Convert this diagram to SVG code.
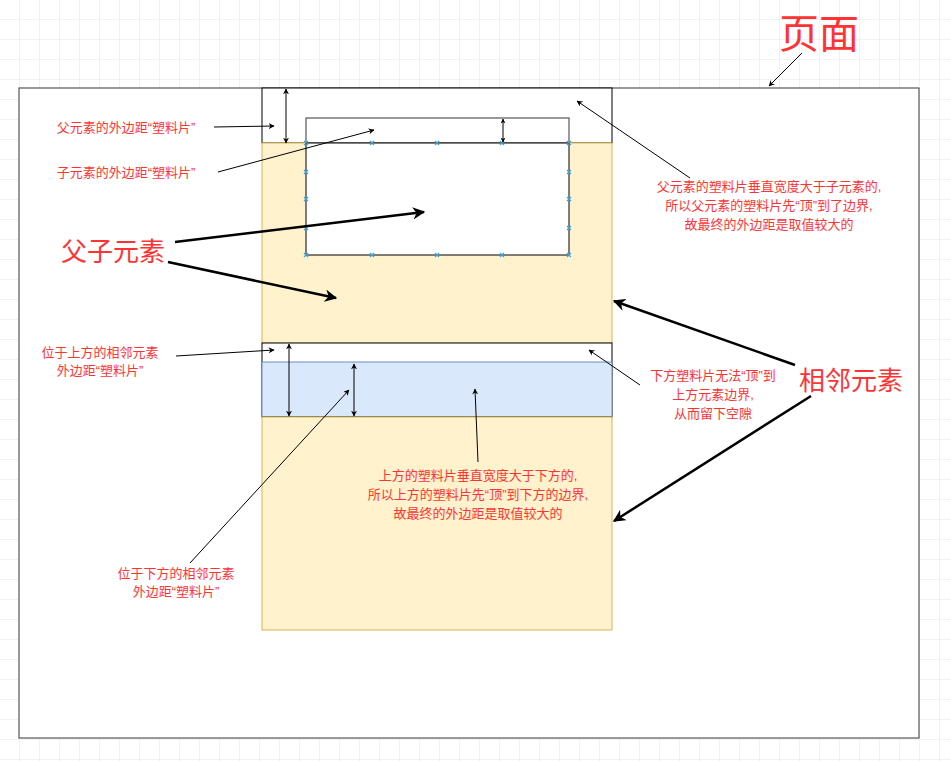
<svg xmlns="http://www.w3.org/2000/svg" width="951" height="761" viewBox="0 0 951 761">
<defs>
<pattern id="g" width="20" height="20" patternUnits="userSpaceOnUse" x="-1" y="-1"><path d="M20 0H0V20" fill="none" stroke="#e6e6e6" stroke-width="1"/></pattern>
<marker id="a" viewBox="0 0 10 10" refX="9" refY="5" markerWidth="6" markerHeight="6" orient="auto-start-reverse"><path d="M0 0L10 5L0 10L3 5z" fill="#000"/></marker>
<marker id="b" viewBox="0 0 10 10" refX="9" refY="5" markerWidth="5" markerHeight="5" orient="auto-start-reverse"><path d="M0 0L10 5L0 10L3 5z" fill="#000"/></marker>
</defs>
<style>
.t{font-family:"Liberation Sans","Noto Sans CJK SC",sans-serif;fill:#ff3333;font-size:13px;text-anchor:middle}
.big{font-size:26px}
.c{stroke:#000;fill:none;stroke-width:1}
.th{stroke-width:2.5}
.x{stroke:#3aa3e3;stroke-width:1.2}
</style>
<rect width="951" height="761" fill="#fff"/>
<rect width="951" height="761" fill="url(#g)"/>
<g id="page"><rect x="19" y="88" width="900" height="650" fill="#fff" stroke="#555" stroke-width="1.2"/></g>
<g id="parent">
<rect x="262" y="88" width="350" height="55" fill="#fff" stroke="#000"/>
<rect x="262" y="143" width="350" height="200" fill="#fff2cc" stroke="#d6b656"/>
</g>
<g id="child">
<rect x="306" y="118" width="263" height="25" fill="#fff" stroke="#555" stroke-width="1.2"/>
<rect x="306" y="143" width="263" height="112" fill="#fff" stroke="#000"/>
<g class="x">
<path d="M304 141l4 4m0-4l-4 4M370 141l4 4m0-4l-4 4M435 141l4 4m0-4l-4 4M500 141l4 4m0-4l-4 4M567 141l4 4m0-4l-4 4"/>
<path d="M304 253l4 4m0-4l-4 4M370 253l4 4m0-4l-4 4M435 253l4 4m0-4l-4 4M500 253l4 4m0-4l-4 4M567 253l4 4m0-4l-4 4"/>
<path d="M304 170l4 4m0-4l-4 4M304 197l4 4m0-4l-4 4M304 226l4 4m0-4l-4 4M567 170l4 4m0-4l-4 4M567 197l4 4m0-4l-4 4M567 226l4 4m0-4l-4 4"/>
</g>
</g>
<g id="upper">
<rect x="262" y="343" width="350" height="74" fill="#fff" stroke="#000"/>
<rect x="262" y="362" width="350" height="55" fill="#dae8fc" stroke="#6c8ebf"/>
<line x1="262" y1="417" x2="612" y2="417" stroke="#000"/>
</g>
<g id="lower"><rect x="262" y="417" width="350" height="213" fill="#fff2cc" stroke="#d6b656"/></g>
<g id="connectors">
<line class="c" x1="286" y1="89" x2="286" y2="143" stroke-width="1.5" marker-start="url(#a)" marker-end="url(#a)"/>
<line class="c" x1="503" y1="119" x2="503" y2="142" marker-start="url(#b)" marker-end="url(#b)"/>
<line class="c" x1="289" y1="344" x2="289" y2="416" stroke-width="1.5" marker-start="url(#a)" marker-end="url(#a)"/>
<line class="c" x1="354" y1="364" x2="354" y2="416" stroke-width="1.5" marker-start="url(#a)" marker-end="url(#a)"/>
<line class="c" x1="214" y1="127" x2="274" y2="126" marker-end="url(#a)"/>
<line class="c" x1="218" y1="172" x2="374" y2="130" marker-end="url(#a)"/>
<line class="c th" x1="175" y1="242" x2="424" y2="212" marker-end="url(#b)"/>
<line class="c th" x1="168" y1="262" x2="336" y2="298" marker-end="url(#b)"/>
<line class="c" x1="690" y1="178" x2="577" y2="101" marker-end="url(#a)"/>
<line class="c" x1="176" y1="356" x2="274" y2="350" marker-end="url(#a)"/>
<line class="c" x1="640" y1="385" x2="589" y2="350" marker-end="url(#a)"/>
<line class="c" x1="478" y1="462" x2="475" y2="389" marker-end="url(#a)"/>
<line class="c" x1="190" y1="563" x2="349" y2="390" marker-end="url(#a)"/>
<line class="c th" x1="795" y1="365" x2="614" y2="301" marker-end="url(#b)"/>
<line class="c th" x1="811" y1="396" x2="614" y2="521" marker-end="url(#b)"/>
<line class="c" x1="802" y1="53" x2="769" y2="86" marker-end="url(#a)"/>
</g>
<g id="labels">
<text class="t" x="819" y="48" style="font-size:40px">页面</text>
<text class="t" x="126" y="132">父元素的外边距“塑料片”</text>
<text class="t" x="126" y="177">子元素的外边距“塑料片”</text>
<text class="t big" x="113" y="261">父子元素</text>
<text class="t" x="769" y="191">父元素的塑料片垂直宽度大于子元素的,</text>
<text class="t" x="769" y="210">所以父元素的塑料片先“顶”到了边界,</text>
<text class="t" x="769" y="229">故最终的外边距是取值较大的</text>
<text class="t" x="100" y="357">位于上方的相邻元素</text>
<text class="t" x="100" y="375">外边距“塑料片”</text>
<text class="t" x="713" y="380">下方塑料片无法“顶”到</text>
<text class="t" x="713" y="399">上方元素边界,</text>
<text class="t" x="713" y="418">从而留下空隙</text>
<text class="t big" x="851" y="390">相邻元素</text>
<text class="t" x="478" y="480">上方的塑料片垂直宽度大于下方的,</text>
<text class="t" x="478" y="499">所以上方的塑料片先“顶”到下方的边界,</text>
<text class="t" x="478" y="518">故最终的外边距是取值较大的</text>
<text class="t" x="176" y="578">位于下方的相邻元素</text>
<text class="t" x="176" y="596">外边距“塑料片”</text>
</g>
</svg>
